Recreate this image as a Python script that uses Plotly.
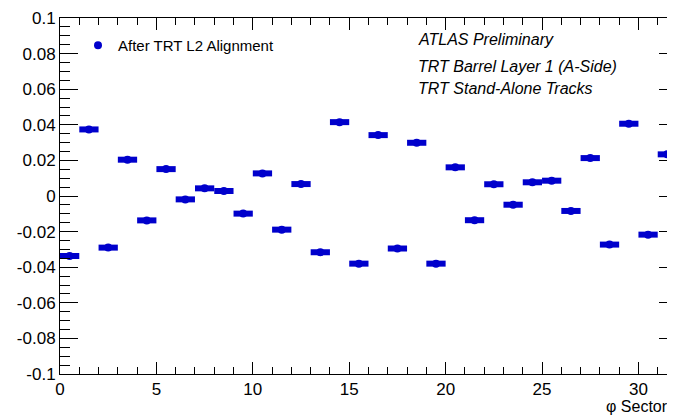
import plotly.graph_objects as go

sectors = [i + 0.5 for i in range(32)]
residuals = [-0.0337, 0.0374, -0.0290, 0.0204, -0.0137, 0.0151, -0.0019, 0.0043,
             0.0028, -0.0099, 0.0127, -0.0189, 0.0067, -0.0316, 0.0415, -0.0380,
             0.0342, -0.0295, 0.0299, -0.0380, 0.0161, -0.0136, 0.0066, -0.0049,
             0.0077, 0.0086, -0.0084, 0.0213, -0.0273, 0.0406, -0.0217, 0.0234]
bin_half_width = [0.5] * 32

blue = "#0000CC"
font = "Liberation Sans, Arial, Helvetica, sans-serif"

# page body has an 8px margin, so figure coords = reference coords - 8
PL, PR, PT, PB = 60, 677, 17.5, 374  # plot area in reference pixels
PW, PH = PR - PL, PB - PT

def px(x):
    return (x - PL) / PW

def py(y):
    return 1 - (y - PT) / PH

fig = go.Figure()
fig.add_trace(go.Scatter(
    x=sectors, y=residuals, mode="markers",
    marker=dict(color=blue, size=8, symbol="circle"),
    error_x=dict(type="data", array=bin_half_width, color=blue, thickness=6, width=0),
    name="After TRT L2 Alignment", showlegend=True,
))

fig.update_layout(
    width=675, height=418,
    margin=dict(l=PL - 8, r=675 - (PR - 8), t=PT - 8, b=418 - (PB - 8), autoexpand=False),
    paper_bgcolor="white", plot_bgcolor="white",
    font=dict(family=font, color="black"),
    showlegend=True,
    legend=dict(x=px(78), y=py(45), xanchor="left", yanchor="middle",
                bgcolor="rgba(0,0,0,0)", font=dict(size=15, family=font),
                itemwidth=30, tracegroupgap=0),
)

fig.update_xaxes(
    range=[0, 32], showgrid=False, zeroline=False, automargin=False,
    showline=True, linecolor="black", linewidth=1, mirror="allticks",
    ticks="inside", ticklen=12, tickcolor="black",
    tickvals=[0, 5, 10, 15, 20, 25, 30], ticktext=["0", "5", "10", "15", "20", "25", "30"],
    tickfont=dict(size=17, family=font),
    minor=dict(ticks="inside", ticklen=7, dtick=1, tickcolor="black", showgrid=False),
)
fig.update_yaxes(
    range=[-0.1, 0.1], showgrid=False, zeroline=False, automargin=False,
    showline=True, linecolor="black", linewidth=1, mirror="allticks",
    ticks="inside", ticklen=18, tickcolor="black",
    tickvals=[-0.1, -0.08, -0.06, -0.04, -0.02, 0, 0.02, 0.04, 0.06, 0.08, 0.1],
    ticktext=["-0.1", "-0.08", "-0.06", "-0.04", "-0.02", "0", "0.02", "0.04", "0.06", "0.08", "0.1"],
    tickfont=dict(size=17, family=font),
    minor=dict(ticks="inside", ticklen=10, dtick=0.005, tickcolor="black", showgrid=False),
)

for txt, yy in [("ATLAS Preliminary", 39.5), ("TRT Barrel Layer 1 (A-Side)", 66.5),
                ("TRT Stand-Alone Tracks", 88)]:
    fig.add_annotation(text="<i>" + txt + "</i>", xref="paper", yref="paper",
                       x=px(416), y=py(yy), xanchor="left", yanchor="middle",
                       showarrow=False, font=dict(size=16, family=font, color="black"))

fig.add_annotation(text="\u03c6 Sector", xref="paper", yref="paper",
                   x=px(604), y=py(407), xanchor="left", yanchor="middle",
                   showarrow=False, font=dict(size=16, family=font, color="black"))

fig.write_html("out.html")
